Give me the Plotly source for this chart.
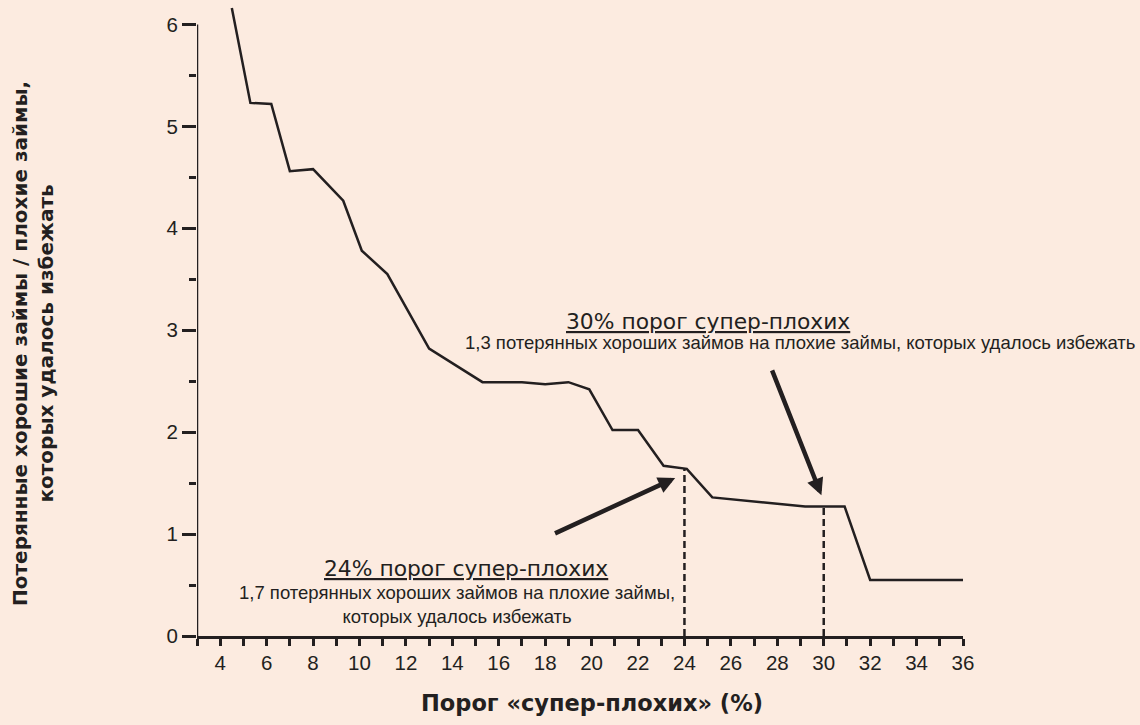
import plotly.graph_objects as go

# ---- data ----
threshold_pct = [4.5, 5.3, 6.2, 7.0, 8.0, 9.3, 10.1, 11.2, 13.0, 15.3, 17.0, 18.0,
                 19.0, 19.9, 20.9, 22.0, 23.1, 24.1, 25.2, 29.2, 30.9, 32.0, 36.0]
goods_per_bad = [6.16, 5.23, 5.22, 4.56, 4.58, 4.27, 3.78, 3.55, 2.82, 2.49, 2.49, 2.47,
                 2.49, 2.42, 2.02, 2.02, 1.67, 1.64, 1.36, 1.27, 1.27, 0.55, 0.55]

marked_x = [24, 30]
marked_y = [1.64, 1.27]

x_tickvals = list(range(4, 37, 2))
x_ticktext = [str(v) for v in x_tickvals]
y_tickvals = [0, 1, 2, 3, 4, 5, 6]
y_ticktext = [str(v) for v in y_tickvals]

x_title = "Порог «супер-плохих» (%)"
y_title = "Потерянные хорошие займы / плохие займы,<br>которых удалось избежать"
note24_head = "24% порог супер-плохих"
note24_body = "1,7 потерянных хороших займов на плохие займы,<br>которых удалось избежать"
note30_head = "30% порог супер-плохих"
note30_body = "1,3 потерянных хороших займов на плохие займы, которых удалось избежать"

INK = "#231f20"
BG = "#fcebe0"
TICKFONT = dict(family="Liberation Sans, Arial, sans-serif", size=20.5, color=INK)
HEADFONT = dict(family="Verdana, DejaVu Sans, sans-serif", size=21.8, color=INK,
                lineposition="under")
BODYFONT = dict(family="Liberation Sans, Arial, sans-serif", size=18.5, color=INK)
YTITLEFONT = dict(family="Verdana, DejaVu Sans, sans-serif", size=20, color=INK,
                  weight="bold")
XTITLEFONT = dict(family="Verdana, DejaVu Sans, sans-serif", size=22.5, color=INK,
                  weight="bold")

fig = go.Figure()

fig.add_trace(go.Scatter(
    x=threshold_pct, y=goods_per_bad, mode="lines",
    line=dict(color=INK, width=2.5), hoverinfo="skip", showlegend=False))

for mx, my in zip(marked_x, marked_y):
    fig.add_trace(go.Scatter(
        x=[mx, mx], y=[0, my], mode="lines",
        line=dict(color=INK, width=2.5, dash="7px,4px"),
        hoverinfo="skip", showlegend=False))

# y axis line (only up to 6)
fig.add_shape(type="line", xref="x", yref="y", x0=3, x1=3, y0=0, y1=6,
              line=dict(color=INK, width=2.5))

# arrows
fig.add_annotation(x=23.6, y=1.55, ax=18.36, ay=1.0, xref="x", yref="y",
                   axref="x", ayref="y", text="", showarrow=True,
                   arrowhead=2, arrowsize=0.75, arrowwidth=4.5, arrowcolor=INK,
                   standoff=0)
fig.add_annotation(x=29.9, y=1.38, ax=27.75, ay=2.62, xref="x", yref="y",
                   axref="x", ayref="y", text="", showarrow=True,
                   arrowhead=2, arrowsize=0.75, arrowwidth=4.5, arrowcolor=INK,
                   standoff=0)

# text notes
fig.add_annotation(x=14.59, y=0.66, xref="x", yref="y", text=note24_head,
                   showarrow=False, font=HEADFONT, xanchor="center", yanchor="middle")
fig.add_annotation(x=14.2, y=0.31, xref="x", yref="y", text=note24_body,
                   showarrow=False, font=BODYFONT, xanchor="center", yanchor="middle",
                   align="center")
fig.add_annotation(x=25.02, y=3.09, xref="x", yref="y", text=note30_head,
                   showarrow=False, font=HEADFONT, xanchor="center", yanchor="middle")
fig.add_annotation(x=28.98, y=2.875, xref="x", yref="y", text=note30_body,
                   showarrow=False, font=BODYFONT, xanchor="center", yanchor="middle")

# axis titles
fig.add_annotation(x=(592 - 197) / 766, y=(636 - 703) / 632, xref="paper", yref="paper",
                   text=x_title, showarrow=False, font=XTITLEFONT,
                   xanchor="center", yanchor="middle")
fig.add_annotation(x=(33 - 197) / 766, y=(636 - 344) / 632, xref="paper", yref="paper",
                   text=y_title, showarrow=False, font=YTITLEFONT, textangle=-90,
                   xanchor="center", yanchor="middle", align="center")

fig.update_xaxes(
    range=[3, 36], showgrid=False, zeroline=False,
    showline=True, linecolor=INK, linewidth=2.5,
    tickmode="array", tickvals=x_tickvals, ticktext=x_ticktext,
    ticks="outside", ticklen=7, tickwidth=2.5, tickcolor=INK,
    minor=dict(ticks="outside", dtick=1, tick0=3, ticklen=7, tickwidth=2.5,
               tickcolor=INK, showgrid=False),
    tickfont=TICKFONT)
fig.update_yaxes(
    range=[0, 6.2], showgrid=False, zeroline=False, showline=False,
    tickmode="array", tickvals=y_tickvals, ticktext=y_ticktext,
    ticks="outside", ticklen=14, tickwidth=2.5, tickcolor=INK,
    minor=dict(ticks="outside", dtick=0.5, tick0=0, ticklen=7, tickwidth=2.5,
               tickcolor=INK, showgrid=False),
    tickfont=TICKFONT)

fig.update_layout(
    width=1140, height=725,
    margin=dict(l=197, r=177, t=4, b=89),
    paper_bgcolor=BG, plot_bgcolor=BG,
    showlegend=False)

fig.write_html("out.html",
               config={"displayModeBar": False},
               post_script="document.body.style.margin='0';"
                           "document.body.style.background='" + BG + "';")
